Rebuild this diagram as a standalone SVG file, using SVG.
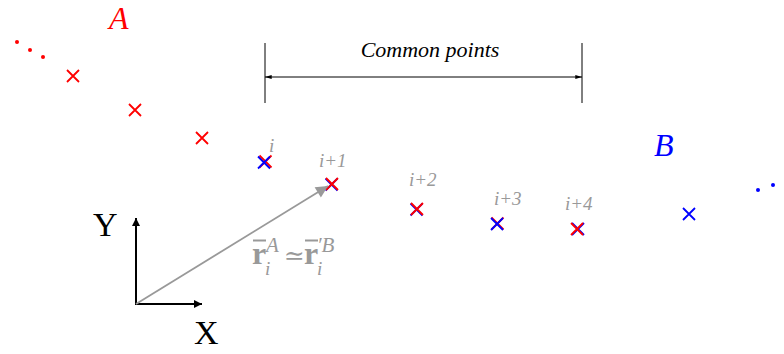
<svg xmlns="http://www.w3.org/2000/svg" width="784" height="354" viewBox="0 0 784 354">
<defs>
<style>
.r{stroke:#ff0000;stroke-width:1.8;fill:none}
.b{stroke:#0000ff;stroke-width:1.8;fill:none}
.lbl{font-family:"Liberation Serif",serif;font-style:italic;font-size:19px;fill:#999999}
.ax{font-family:"Liberation Serif",serif;font-size:34px;fill:#000}
.set{font-family:"Liberation Serif",serif;font-style:italic;font-size:32px}
</style>
<marker id="ah" viewBox="0 0 10 10" refX="10" refY="5" markerWidth="10" markerHeight="8" markerUnits="userSpaceOnUse" orient="auto"><path d="M0,0 L10,5 L0,10 z" fill="#000"/></marker>
<marker id="ahs" viewBox="0 0 10 6" refX="10" refY="3" markerWidth="9" markerHeight="4" markerUnits="userSpaceOnUse" orient="auto-start-reverse"><path d="M0,0 L10,3 L0,6 z" fill="#000"/></marker>
<marker id="ahg" viewBox="0 0 10 10" refX="10" refY="5" markerWidth="18" markerHeight="12" markerUnits="userSpaceOnUse" orient="auto"><path d="M0,0 L10,5 L0,10 z" fill="#999999"/></marker>
<path id="x" d="M-6,-6 L6,6 M-6,6 L6,-6"/>
</defs>
<rect width="784" height="354" fill="#fff"/>

<g id="setA">
<text class="set" x="109" y="29" fill="#ff0000">A</text>
<circle cx="17" cy="42" r="2" fill="#ff0000"/>
<circle cx="30" cy="50" r="2" fill="#ff0000"/>
<circle cx="43" cy="57" r="2" fill="#ff0000"/>
<use href="#x" class="r" x="73" y="76"/>
<use href="#x" class="r" x="135" y="110"/>
<use href="#x" class="r" x="202" y="138"/>
</g>

<g id="setB">
<text class="set" x="654" y="156" fill="#0000ff">B</text>
<circle cx="758" cy="190" r="2" fill="#0000ff"/>
<circle cx="773" cy="185" r="2" fill="#0000ff"/>
<use href="#x" class="b" x="689" y="214"/>
</g>

<g id="common">
<use href="#x" class="r" x="265.5" y="161.5"/>
<use href="#x" class="b" x="264" y="162.5"/>
<use href="#x" class="b" x="331.5" y="184.5"/>
<use href="#x" class="r" x="332" y="184"/>
<use href="#x" class="b" x="416.5" y="209.5"/>
<use href="#x" class="r" x="417" y="209"/>
<use href="#x" class="r" x="497.5" y="223.5"/>
<use href="#x" class="b" x="497" y="224"/>
<use href="#x" class="b" x="578" y="229"/>
<use href="#x" class="r" x="577" y="229"/>
<text class="lbl" x="269" y="152">i</text>
<text class="lbl" x="319" y="167">i+1</text>
<text class="lbl" x="409" y="186">i+2</text>
<text class="lbl" x="494" y="205">i+3</text>
<text class="lbl" x="565" y="210">i+4</text>
</g>

<g id="span">
<line x1="265" y1="43" x2="265" y2="103" stroke="#000" stroke-width="1"/>
<line x1="582" y1="43" x2="582" y2="103" stroke="#000" stroke-width="1"/>
<line x1="265" y1="77" x2="582" y2="77" stroke="#000" stroke-width="1" marker-start="url(#ahs)" marker-end="url(#ahs)"/>
<text x="430" y="57" text-anchor="middle" font-family="Liberation Serif, serif" font-style="italic" font-size="22">Common points</text>
</g>

<g id="axes">
<line x1="136" y1="304.5" x2="136" y2="218" stroke="#000" stroke-width="2" marker-end="url(#ah)"/>
<line x1="135" y1="304" x2="202" y2="304" stroke="#000" stroke-width="2" marker-end="url(#ah)"/>
<text class="ax" x="93" y="236">Y</text>
<text class="ax" x="194" y="344">X</text>
</g>

<g id="vector">
<line x1="136" y1="304" x2="328" y2="186" stroke="#999999" stroke-width="1.8" marker-end="url(#ahg)"/>
<g font-family="Liberation Serif, serif" fill="#999999">
<text x="252" y="264" font-size="32" font-weight="bold">r</text>
<line x1="253" y1="240.5" x2="266" y2="240.5" stroke="#999999" stroke-width="2"/>
<text x="266" y="252" font-size="21" font-style="italic">A</text>
<text x="265" y="275" font-size="19" font-style="italic">i</text>
<text x="284" y="264" font-size="25" font-family="DejaVu Serif, serif">≃</text>
<text x="304" y="264" font-size="32" font-weight="bold">r</text>
<line x1="305" y1="240.5" x2="318" y2="240.5" stroke="#999999" stroke-width="2"/>
<text x="317" y="252" font-size="21" font-style="italic">′B</text>
<text x="317" y="275" font-size="19" font-style="italic">i</text>
</g>
</g>
</svg>
